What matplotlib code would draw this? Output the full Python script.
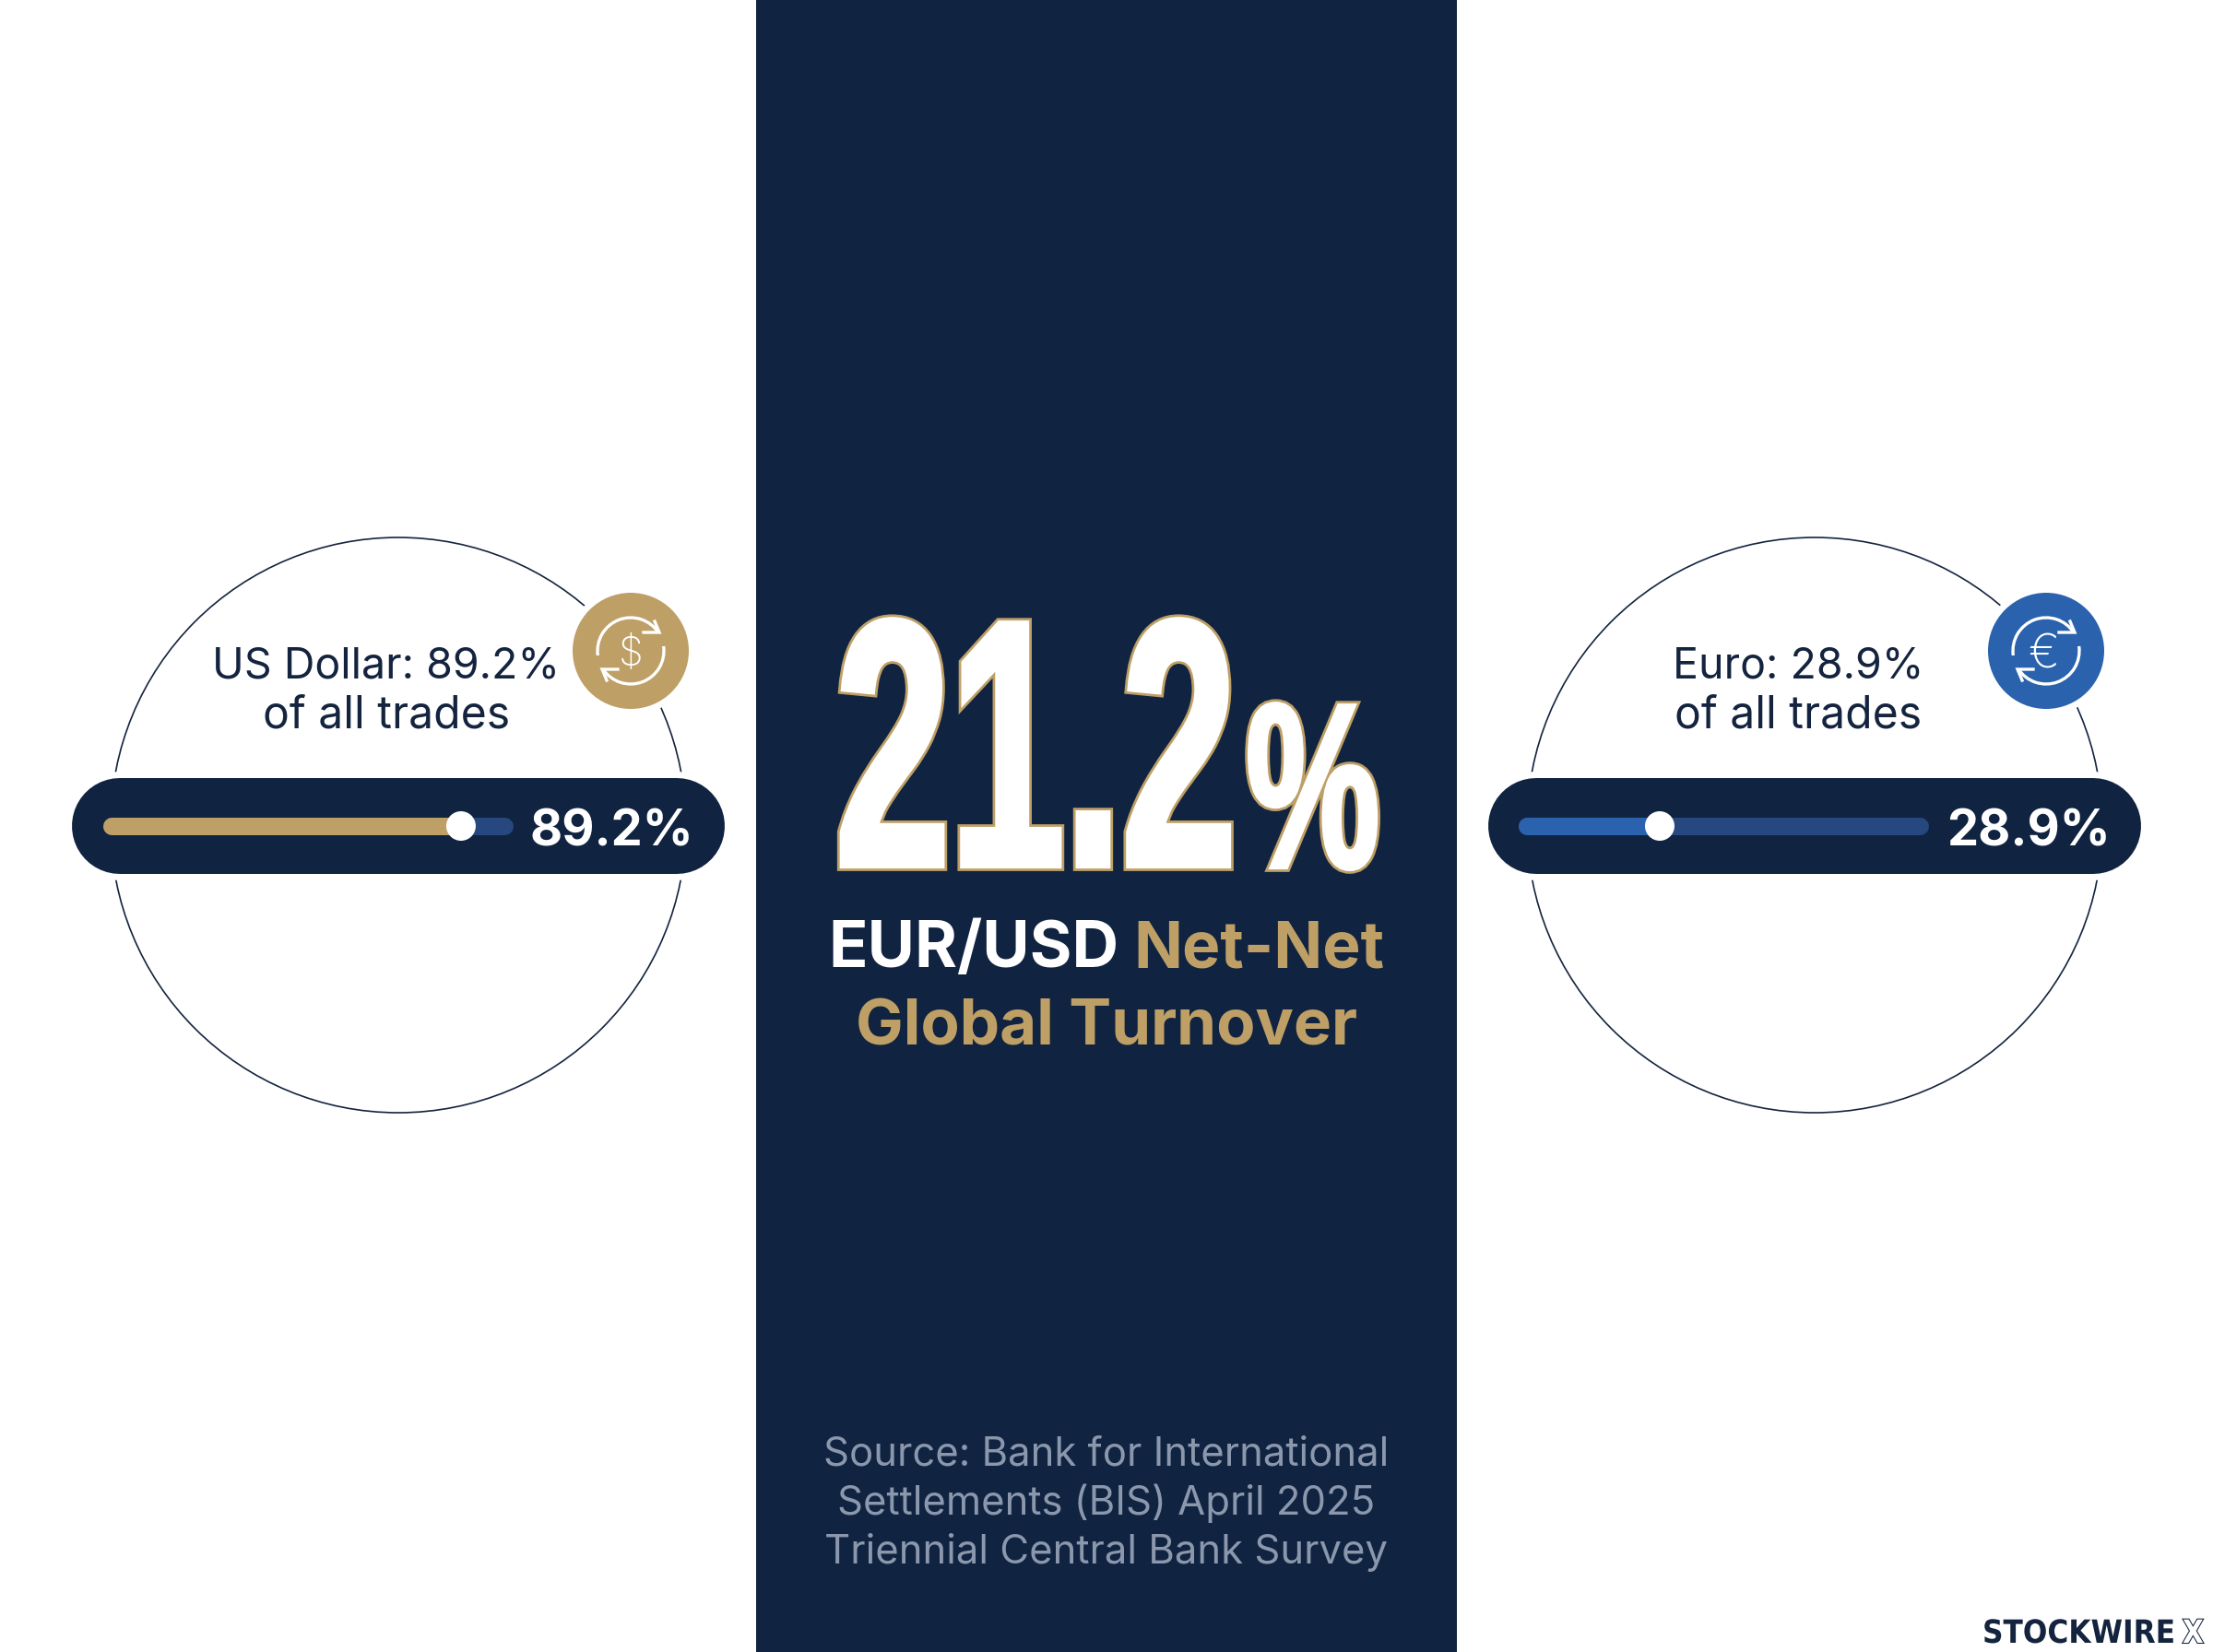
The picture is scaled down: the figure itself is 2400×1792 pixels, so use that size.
import matplotlib
matplotlib.use('Agg')
import matplotlib.pyplot as plt
from matplotlib.colors import to_rgb
from matplotlib.patches import Circle, Arc, Rectangle
import matplotlib.patheffects as pe
from matplotlib.transforms import Affine2D

# Values
currencies = ['US Dollar', 'Euro']
shares = [89.2, 28.9]
# where the slider knob really sits on its track in the picture (%)
slider_drawn = [87.4, 34.6]
symbols = ['$', '€']
headline = '21.2'
source_lines = ['Source: Bank for International',
                'Settlements (BIS) April 2025',
                'Triennial Central Bank Survey']

NAVY = '#102340'
GOLD = '#BE9F66'
BLUE = '#2A62AE'
TRACK = '#27477F'
INK = '#14243F'
GREY = '#8B97AC'
FONT = 'Inter'
COND = 'Liberation Sans'


class Squeeze(pe.AbstractPathEffect):
    # narrows text horizontally about x0, optional stroke around it
    def __init__(self, sx, x0, lw=0, color=None):
        self.sx, self.x0, self.lw, self.color = sx, x0, lw, color

    def draw_path(self, renderer, gc, tpath, affine, rgbFace=None):
        aff = affine + Affine2D().translate(-self.x0, 0).scale(self.sx, 1).translate(self.x0, 0)
        g = renderer.new_gc()
        g.copy_properties(gc)
        if self.lw:
            g.set_linewidth(self.lw)
            g.set_foreground(self.color)
            g.set_joinstyle('miter')
            rgbFace = to_rgb(self.color)
        renderer.draw_path(g, tpath, aff, rgbFace)
        g.restore()


def pill(ax, x0, x1, yc, h, color, zorder):
    # thick round-capped line; h is in pixels, dpi is 100
    r = h / 2
    ax.plot([x0 + r, x1 - r], [yc, yc], color=color, lw=h * 0.72,
            solid_capstyle='round', zorder=zorder)


fig = plt.figure(figsize=(24, 17.92), dpi=100, facecolor='white')
ax = fig.add_axes([0, 0, 1, 1])
ax.set_xlim(0, 2400)
ax.set_ylim(1792, 0)
ax.axis('off')

# centre panel
ax.add_patch(Rectangle((820, 0), 760, 1792, fc=NAVY, ec='none', zorder=0))

# left and right gauges
circle_x = [432, 1968]
label_x = [419, 1950]
icon_x = [684, 2219]
track_x = [111, 1646]
fill_col = [GOLD, BLUE]
value_x = [663, 2200]
symbol_size = [31, 36]
symbol_dx = [0, -3]
yc = 896

for i in range(2):
    cx = circle_x[i]
    ax.add_patch(Circle((cx, 895), 312, fc='none', ec=INK, lw=1.2, zorder=1))

    # pill with a white halo that cuts the ring
    pill(ax, cx - 361, cx + 361, yc, 118, 'white', 2)
    pill(ax, cx - 354, cx + 354, yc, 104, NAVY, 3)

    # slider
    tx = track_x[i]
    pill(ax, tx, tx + 445, yc, 19, TRACK, 4)
    knob = tx + 445 * slider_drawn[i] / 100
    pill(ax, tx, knob, yc, 19, fill_col[i], 5)
    ax.add_patch(Circle((knob, yc), 16, fc='white', ec='none', zorder=6))
    ax.text(value_x[i], 917, f'{shares[i]}%', color='white', fontsize=39, fontweight='bold',
            family=FONT, ha='center', va='baseline', zorder=6)

    # label
    ax.text(label_x[i], 736, f'{currencies[i]}: {shares[i]}%', color=INK, fontsize=33.5,
            family=FONT, ha='center', va='baseline', zorder=4)
    ax.text(label_x[i], 790, 'of all trades', color=INK, fontsize=34.6,
            family=FONT, ha='center', va='baseline', zorder=4)

    # icon
    ix, iy = icon_x[i], 706
    ax.add_patch(Circle((ix, iy), 70, fc='white', ec='none', zorder=2))
    ax.add_patch(Circle((ix, iy), 63, fc=fill_col[i], ec='none', zorder=3))
    for sign, t1, t2 in [(1, 172, 327), (-1, 352, 507)]:
        ax.add_patch(Arc((ix, iy), 72, 72, theta1=t1, theta2=t2, ec='white', lw=2.4, zorder=4))
        ax.plot([ix + sign * 26, ix + sign * 31, ix + sign * 14],
                [iy - sign * 32, iy - sign * 20, iy - sign * 20],
                color='white', lw=2.4, zorder=4, solid_joinstyle='miter')
    ax.text(ix + symbol_dx[i], iy, symbols[i], color='white', fontsize=symbol_size[i], family=FONT,
            fontweight='light', ha='center', va='center_baseline', zorder=4)

# headline number, squeezed to the condensed look
num_fx = [Squeeze(0.585, 906, 8.5, GOLD), Squeeze(0.585, 906, 4.5, 'white'), Squeeze(0.585, 906)]
ax.text(906, 939, headline, color='white', fontsize=275, fontweight='bold',
        family=COND, ha='left', va='baseline', path_effects=num_fx, zorder=3)
pct_fx = [Squeeze(0.64, 1351, 7, GOLD), Squeeze(0.64, 1351, 3, 'white'), Squeeze(0.64, 1351)]
ax.text(1351, 941, '%', color='white', fontsize=184, fontweight='bold',
        family=COND, ha='left', va='baseline', path_effects=pct_fx, zorder=3)

# title
ax.text(898, 1049, 'EUR/USD', color='white', fontsize=50.5, fontweight='bold', family=FONT,
        ha='left', va='baseline', zorder=3)
ax.text(1229, 1049, 'Net-Net', color=GOLD, fontsize=50, fontweight='bold', family=FONT,
        ha='left', va='baseline', zorder=3)
ax.text(1200, 1134, 'Global Turnover', color=GOLD, fontsize=49.7, fontweight='bold', family=FONT,
        ha='center', va='baseline', zorder=3)

# source
for line, y in zip(source_lines, [1589, 1643, 1696]):
    ax.text(1200, y, line, color=GREY, fontsize=31.4, family=FONT, ha='center', va='baseline', zorder=3)

# logo
ax.text(2150, 1782, 'STOCKWIRE', color=INK, fontsize=25, fontweight='bold', family='DejaVu Sans',
        ha='left', va='baseline', path_effects=[Squeeze(0.9, 2150)])
ax.text(2367, 1782, 'X', color='white', fontsize=25, fontweight='bold', family='DejaVu Sans',
        ha='left', va='baseline',
        path_effects=[Squeeze(0.85, 2367, 1.5, INK), Squeeze(0.85, 2367)])

fig.savefig('out.png', dpi=100)
